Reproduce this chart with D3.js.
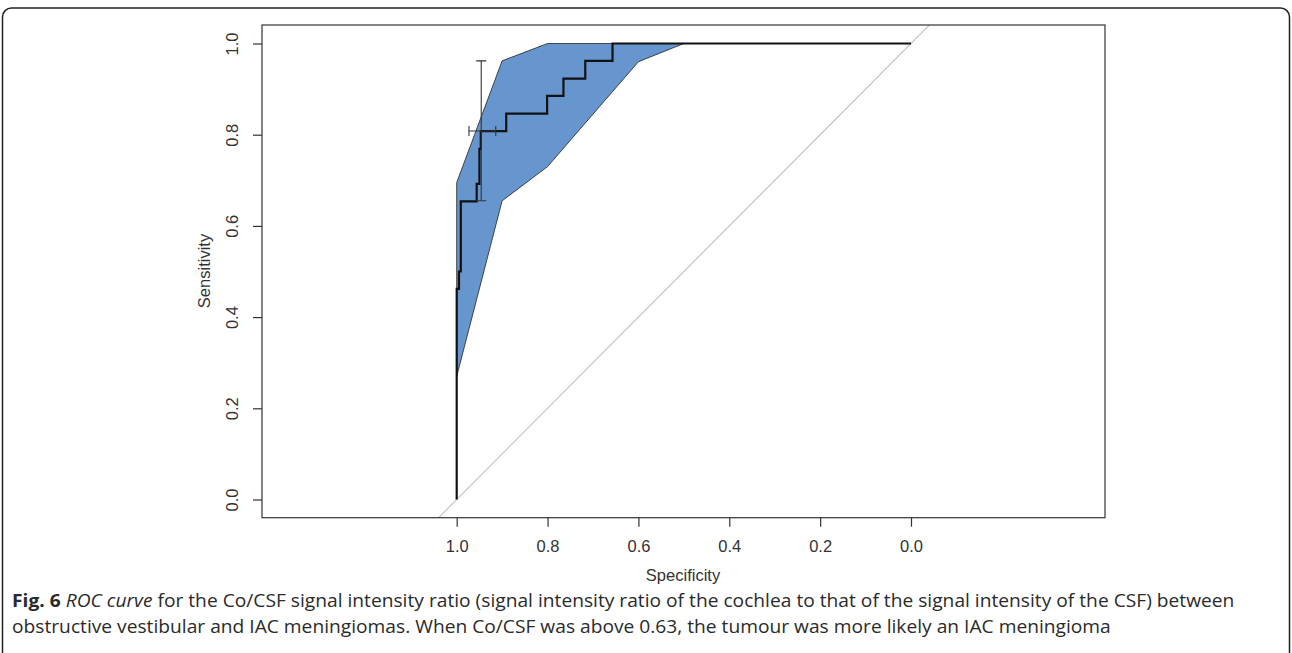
<!DOCTYPE html>
<html>
<head>
<meta charset="utf-8">
<script src="https://cdn.jsdelivr.net/npm/d3@7"></script>
<style>
  body { margin: 0; background: #fff; }
  svg { display: block; }
</style>
</head>
<body>
<svg id="chart" width="1292" height="653"></svg>
<script>
// ROC curve, drawn as step points (specificity, sensitivity)
const rocSpecificity = [1.000, 1.000, 0.995, 0.995, 0.991, 0.991, 0.956, 0.956, 0.950, 0.950, 0.947, 0.947, 0.891, 0.891, 0.801, 0.801, 0.765, 0.765, 0.717, 0.717, 0.657, 0.657, 0.000];
const rocSensitivity = [0.000, 0.462, 0.462, 0.500, 0.500, 0.654, 0.654, 0.692, 0.692, 0.769, 0.769, 0.808, 0.808, 0.846, 0.846, 0.885, 0.885, 0.923, 0.923, 0.962, 0.962, 1.000, 1.000];

// confidence band of sensitivity at given specificities
const bandSpecificity = [1.0, 0.9, 0.8, 0.6, 0.5, 0.0];
const bandUpper = [0.695, 0.962, 1.0, 1.0, 1.0, 1.0];
const bandLower = [0.27, 0.655, 0.73, 0.96, 1.0, 1.0];

// best threshold with its CI cross
const bestPoint = { sp: 0.946, se: 0.808 };
const bestSpCI = [0.973, 0.914];
const bestSeCI = [0.655, 0.962];

const tickValues = [1.0, 0.8, 0.6, 0.4, 0.2, 0.0];

const captionLine1 = 'for the Co/CSF signal intensity ratio (signal intensity ratio of the cochlea to that of the signal intensity of the CSF) between';
const captionLine2 = 'obstructive vestibular and IAC meningiomas. When Co/CSF was above 0.63, the tumour was more likely an IAC meningioma';

const axisFont = "'Liberation Sans', Arial, sans-serif";
const svg = d3.select('#chart')
    .style('font-family', axisFont);

// outer frame
svg.append('rect')
    .attr('x', 2.5).attr('y', 8)
    .attr('width', 1287).attr('height', 670)
    .attr('rx', 9)
    .attr('fill', 'none')
    .attr('stroke', '#222')
    .attr('stroke-width', 1.5);

const box = { left: 262, right: 1105, top: 25, bottom: 517.7 };

const x = d3.scaleLinear().domain([1, 0]).range([456.7, 911]);
const y = d3.scaleLinear().domain([0, 1]).range([499.5, 43.5]);

svg.append('clipPath').attr('id', 'plotclip')
  .append('rect')
    .attr('x', box.left).attr('y', box.top)
    .attr('width', box.right - box.left).attr('height', box.bottom - box.top);

const plot = svg.append('g').attr('clip-path', 'url(#plotclip)');

// chance diagonal
plot.append('line')
    .attr('x1', x(1.1)).attr('y1', y(-0.1))
    .attr('x2', x(-0.1)).attr('y2', y(1.1))
    .attr('stroke', '#c4c4c4')
    .attr('stroke-width', 1.2);

// CI shape
const bandPts = bandSpecificity.map((s, i) => [x(s), y(bandUpper[i])])
    .concat(bandSpecificity.map((s, i) => [x(s), y(bandLower[i])]).reverse());
plot.append('path')
    .attr('d', d3.line()(bandPts) + 'Z')
    .attr('fill', 'rgb(103,150,206)')
    .attr('stroke', '#222')
    .attr('stroke-width', 0.8);

// ROC curve
plot.append('path')
    .datum(rocSpecificity.map((s, i) => [s, rocSensitivity[i]]))
    .attr('d', d3.line().x(d => x(d[0])).y(d => y(d[1])))
    .attr('fill', 'none')
    .attr('stroke', '#111')
    .attr('stroke-width', 2.2);

// CI cross at best point
const cross = plot.append('g')
    .attr('stroke', '#333')
    .attr('stroke-width', 1.1)
    .attr('fill', 'none');
const cap = 5;
cross.append('line')
    .attr('x1', x(bestPoint.sp)).attr('x2', x(bestPoint.sp))
    .attr('y1', y(bestSeCI[0])).attr('y2', y(bestSeCI[1]));
bestSeCI.forEach(v => cross.append('line')
    .attr('x1', x(bestPoint.sp) - cap).attr('x2', x(bestPoint.sp) + cap)
    .attr('y1', y(v)).attr('y2', y(v)));
cross.append('line')
    .attr('x1', x(bestSpCI[0])).attr('x2', x(bestSpCI[1]))
    .attr('y1', y(bestPoint.se)).attr('y2', y(bestPoint.se));
bestSpCI.forEach(v => cross.append('line')
    .attr('x1', x(v)).attr('x2', x(v))
    .attr('y1', y(bestPoint.se) - cap).attr('y2', y(bestPoint.se) + cap));

// plot box
svg.append('rect')
    .attr('x', box.left).attr('y', box.top)
    .attr('width', box.right - box.left).attr('height', box.bottom - box.top)
    .attr('fill', 'none')
    .attr('stroke', '#333')
    .attr('stroke-width', 1.2);

// axes
const labelSize = '16.5px';
const xAxis = svg.append('g')
    .attr('transform', `translate(0,${box.bottom})`)
    .call(d3.axisBottom(x).tickValues(tickValues).tickFormat(d3.format('.1f')).tickSize(9).tickPadding(14));
const yAxis = svg.append('g')
    .attr('transform', `translate(${box.left},0)`)
    .call(d3.axisLeft(y).tickValues(tickValues).tickFormat(d3.format('.1f')).tickSize(9));

[xAxis, yAxis].forEach(a => {
  a.attr('font-size', null).attr('font-family', null);
  a.select('.domain').remove();
  a.selectAll('line').attr('stroke', '#333').attr('stroke-width', 1.2);
  a.selectAll('text').attr('fill', '#333').style('font-size', labelSize).style('font-family', axisFont);
});
yAxis.selectAll('.tick text')
    .attr('x', null).attr('dy', null)
    .attr('text-anchor', 'middle')
    .attr('transform', 'translate(-30,0) rotate(-90)')
    .attr('dy', '0.35em');

svg.append('text')
    .attr('x', 683).attr('y', 581)
    .attr('text-anchor', 'middle')
    .attr('fill', '#333')
    .style('font-size', labelSize)
    .text('Specificity');

svg.append('text')
    .attr('transform', 'translate(210,271) rotate(-90)')
    .attr('text-anchor', 'middle')
    .attr('fill', '#333')
    .style('font-size', labelSize)
    .text('Sensitivity');

// caption: the reference face is narrow, so squeeze a larger font horizontally
const capFont = "'Open Sans', 'Noto Sans', sans-serif";
const capSize = '17.5px';
const line1 = svg.append('text')
    .attr('x', 0).attr('y', 0)
    .attr('fill', '#2a2a2a')
    .style('font-family', capFont)
    .style('font-size', capSize);
line1.append('tspan').attr('font-weight', 'bold').text('Fig. 6');
line1.append('tspan').text(' ');
line1.append('tspan').attr('font-style', 'italic').text('ROC curve');
line1.append('tspan').text(' ' + captionLine1);

const line2 = svg.append('text')
    .attr('x', 0).attr('y', 0)
    .attr('fill', '#2a2a2a')
    .style('font-family', capFont)
    .style('font-size', capSize)
    .text(captionLine2);

// fit line 1 between x=12 and x=1235
const w1 = line1.node().getComputedTextLength();
const sx = (1235 - 12) / w1;
line1.attr('transform', `translate(12,607) scale(${sx},1)`);
line2.attr('transform', `translate(12,633) scale(${sx},1)`);
</script>
</body>
</html>
